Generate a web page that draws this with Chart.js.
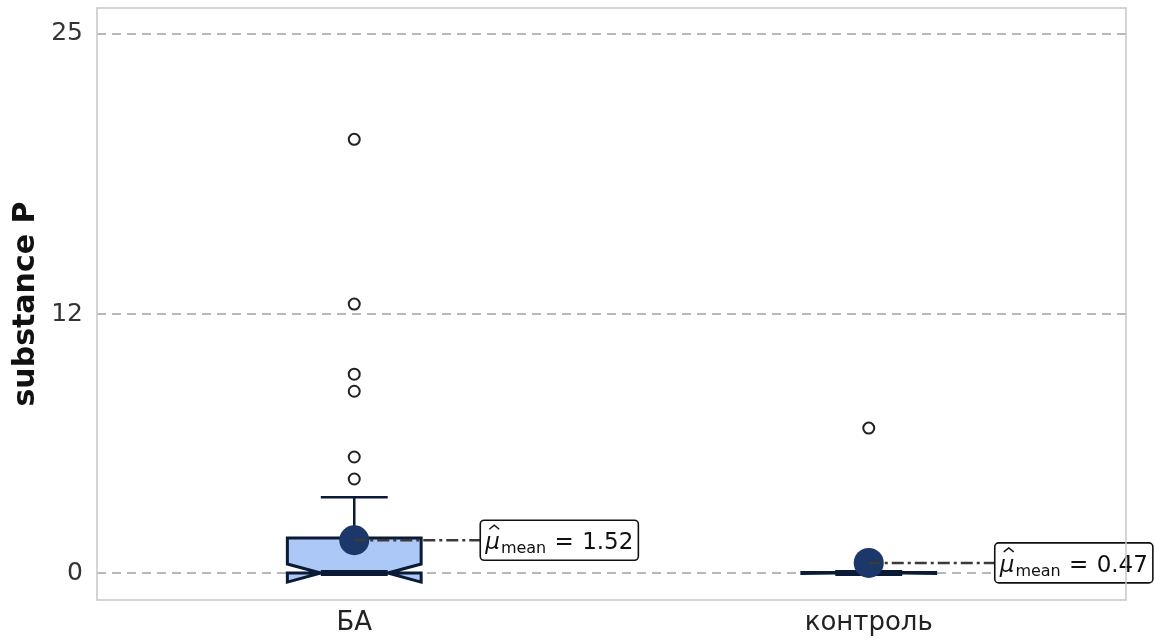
<!DOCTYPE html>
<html>
<head>
<meta charset="utf-8">
<script src="https://cdn.jsdelivr.net/npm/chart.js@4/dist/chart.umd.min.js"></script>
<style>
  html, body { margin: 0; padding: 0; background: #ffffff; }
  #wrap { width: 1154px; height: 639px; }
</style>
</head>
<body>
<div id="wrap"><canvas id="chart" width="1154" height="639"></canvas></div>
<script>
// Groups and their box-plot statistics
const categories = ['БА', 'контроль'];
const q1 = [0, 0];
const medians = [0, 0];
const q3 = [1.62, 0.03];
const whiskerLow = [0, 0];
const whiskerHigh = [3.52, 0.05];
const notchLow = [-0.42, -0.02];
const notchHigh = [0.42, 0.02];
const means = [1.52, 0.47];
const outliersBA = [4.36, 5.38, 8.43, 9.22, 12.47, 20.11];
const outliersControl = [6.72];
const yTicks = [0, 12, 25];

const outlierGroups = [outliersBA, outliersControl];
const BOX_HALF = 0.13;          // half box width, in category units
const FILL = '#abc8f7';
const EDGE = '#0b1a36';
const MEAN_COLOR = '#1c3769';

const outlierPoints = [];
outlierGroups.forEach((vals, i) => vals.forEach(v => outlierPoints.push({ x: i, y: v })));
const meanPoints = means.map((m, i) => ({ x: i, y: m }));

// Notched boxes, whiskers and medians, drawn under the points
const boxPlugin = {
  id: 'boxes',
  beforeDatasetsDraw(chart) {
    const { ctx, scales: { x, y } } = chart;
    categories.forEach((c, i) => {
      const cx = x.getPixelForValue(i);
      const hw = x.getPixelForValue(i + BOX_HALF) - cx;
      const L = cx - hw, R = cx + hw;
      const lc = cx - hw / 2, rc = cx + hw / 2;
      const yq1 = y.getPixelForValue(q1[i]);
      const yq3 = y.getPixelForValue(q3[i]);
      const ym = y.getPixelForValue(medians[i]);
      const ynl = y.getPixelForValue(notchLow[i]);
      const ynh = y.getPixelForValue(notchHigh[i]);
      const ywl = y.getPixelForValue(whiskerLow[i]);
      const ywh = y.getPixelForValue(whiskerHigh[i]);

      ctx.save();
      ctx.lineJoin = 'miter';
      // whiskers
      ctx.strokeStyle = EDGE;
      ctx.lineWidth = 2.5;
      ctx.beginPath();
      ctx.moveTo(cx, yq3); ctx.lineTo(cx, ywh);
      ctx.moveTo(cx, yq1); ctx.lineTo(cx, ywl);
      ctx.moveTo(lc, ywh); ctx.lineTo(rc, ywh);
      ctx.moveTo(lc, ywl); ctx.lineTo(rc, ywl);
      ctx.stroke();

      // notched box
      ctx.beginPath();
      ctx.moveTo(L, yq1);
      ctx.lineTo(R, yq1);
      ctx.lineTo(R, ynl);
      ctx.lineTo(rc, ym);
      ctx.lineTo(R, ynh);
      ctx.lineTo(R, yq3);
      ctx.lineTo(L, yq3);
      ctx.lineTo(L, ynh);
      ctx.lineTo(lc, ym);
      ctx.lineTo(L, ynl);
      ctx.closePath();
      ctx.fillStyle = FILL;
      ctx.fill();
      ctx.lineWidth = 3;
      ctx.strokeStyle = EDGE;
      ctx.stroke();

      // median
      ctx.lineWidth = 6;
      ctx.beginPath();
      ctx.moveTo(lc, ym); ctx.lineTo(rc, ym);
      ctx.stroke();
      ctx.restore();
    });
  },
  afterDatasetsDraw(chart) {
    const { ctx, scales: { x, y } } = chart;
    means.forEach((m, i) => {
      const px = x.getPixelForValue(i);
      const py = y.getPixelForValue(m);
      const boxLeft = px + 126;
      const boxH = 40;

      // measure label pieces
      const fMain = '23px "DejaVu Sans"';
      const fMu = 'italic 23px "DejaVu Sans"';
      const fSub = '16px "DejaVu Sans"';
      const eqText = ' = ';
      const valText = m.toFixed(2);
      ctx.save();
      ctx.font = fMu; const wMu = ctx.measureText('μ').width;
      ctx.font = fSub; const wSub = ctx.measureText('mean').width;
      ctx.font = fMain;
      const wEq = ctx.measureText(eqText).width;
      const wVal = ctx.measureText(valText).width;
      const padX = 5;
      const gap = 1;
      const boxW = padX * 2 + wMu + 1 + wSub + wEq + gap * 2 + wVal;

      // dash-dot leader from the mean to the label
      ctx.strokeStyle = '#3a3a3a';
      ctx.lineWidth = 2.5;
      ctx.setLineDash([12, 4, 3, 4]);
      ctx.beginPath();
      ctx.moveTo(px, py);
      ctx.lineTo(boxLeft, py);
      ctx.stroke();
      ctx.setLineDash([]);

      // label box
      const top = py - boxH / 2;
      ctx.beginPath();
      ctx.roundRect(boxLeft, top, boxW, boxH, 4);
      ctx.fillStyle = '#ffffff';
      ctx.fill();
      ctx.lineWidth = 1.6;
      ctx.strokeStyle = '#111111';
      ctx.stroke();

      // label text
      const base = py + 9;
      let tx = boxLeft + padX;
      ctx.fillStyle = '#111111';
      ctx.textBaseline = 'alphabetic';
      ctx.textAlign = 'left';
      ctx.font = fMu;
      ctx.fillText('μ', tx, base);
      // hat over mu
      ctx.lineWidth = 1.4;
      ctx.strokeStyle = '#111111';
      ctx.beginPath();
      ctx.moveTo(tx + 4, base - 20);
      ctx.lineTo(tx + 9, base - 24);
      ctx.lineTo(tx + 14, base - 20);
      ctx.stroke();
      tx += wMu + 1;
      ctx.font = fSub;
      ctx.fillText('mean', tx, base + 4);
      tx += wSub + gap;
      ctx.font = fMain;
      ctx.fillText(eqText, tx, base);
      tx += wEq + gap;
      ctx.fillText(valText, tx, base);
      ctx.restore();
    });
  },
  afterDraw(chart) {
    const { ctx, chartArea: a } = chart;
    ctx.save();
    ctx.strokeStyle = '#c6c6c6';
    ctx.lineWidth = 1.5;
    ctx.strokeRect(a.left, a.top, a.right - a.left, a.bottom - a.top);
    ctx.restore();
  }
};

new Chart(document.getElementById('chart'), {
  type: 'scatter',
  data: {
    datasets: [
      {
        label: 'outliers',
        data: outlierPoints,
        pointStyle: 'circle',
        pointRadius: 5.5,
        borderWidth: 2,
        borderColor: '#222222',
        backgroundColor: 'rgba(255,255,255,0)'
      },
      {
        label: 'mean',
        data: meanPoints,
        pointStyle: 'circle',
        pointRadius: 15,
        borderWidth: 0,
        backgroundColor: MEAN_COLOR
      }
    ]
  },
  options: {
    responsive: false,
    animation: false,
    events: [],
    layout: { autoPadding: false, padding: { top: 8, right: 28, left: 0, bottom: 0 } },
    plugins: { legend: { display: false }, tooltip: { enabled: false } },
    scales: {
      x: {
        type: 'linear',
        min: -0.5,
        max: 1.5,
        afterBuildTicks: s => { s.ticks = categories.map((c, i) => ({ value: i })); },
        afterFit: s => { s.height = 39; s.paddingLeft = 0; s.paddingRight = 0; },
        ticks: {
          callback: v => categories[v],
          font: { family: 'DejaVu Sans', size: 26 },
          color: '#222222',
          padding: 0,
          maxRotation: 0
        },
        grid: { display: false },
        border: { display: false }
      },
      y: {
        min: -1.25,
        max: 26.2,
        afterBuildTicks: s => { s.ticks = yTicks.map(v => ({ value: v })); },
        afterFit: s => { s.width = 97; s.paddingTop = 0; s.paddingBottom = 0; },
        ticks: {
          font: { family: 'DejaVu Sans', size: 25 },
          color: '#333333',
          padding: 14
        },
        grid: { color: '#b8b8b8', lineWidth: 2, drawTicks: false },
        border: { display: false, dash: [9, 6] },
        title: {
          display: true,
          text: 'substance P',
          font: { family: 'DejaVu Sans', size: 30, weight: 'bold' },
          color: '#111111',
          padding: { top: 8, bottom: 0 }
        }
      }
    }
  },
  plugins: [boxPlugin]
});
</script>
</body>
</html>
